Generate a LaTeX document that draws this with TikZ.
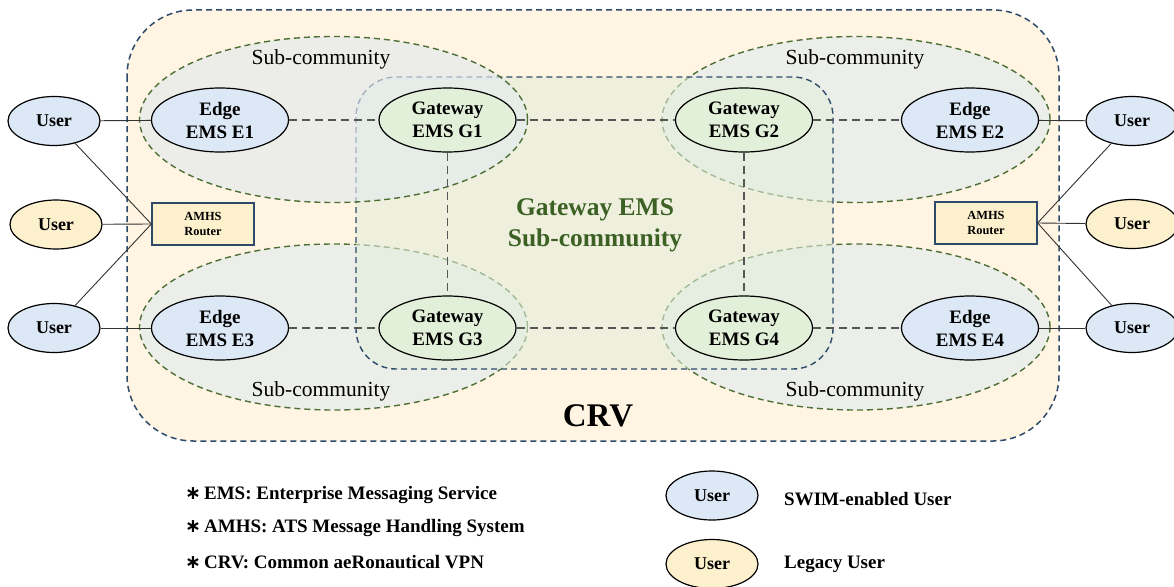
\documentclass[tikz,border=0pt]{standalone}
\usepackage{fontspec}
\setmainfont{Liberation Serif}
\newfontfamily\astfont{DejaVu Sans}
\usetikzlibrary{shapes.geometric}
\definecolor{crvfill}{RGB}{255,245,226}
\definecolor{crvline}{RGB}{46,74,106}
\definecolor{subfill}{RGB}{236,238,234}
\definecolor{subfilltl}{RGB}{226,234,238}
\definecolor{subline}{RGB}{78,112,54}
\definecolor{gwfill}{RGB}{226,238,219}
\definecolor{bluefill}{RGB}{220,232,245}
\definecolor{greenfill}{RGB}{226,239,217}
\definecolor{orangefill}{RGB}{253,240,204}
\definecolor{gwtext}{RGB}{61,97,37}
\definecolor{conn}{RGB}{85,85,85}
\newcommand{\legast}{{\astfont\bfseries ∗}\hspace{3pt}}
\tikzset{
  emsnode/.style={ellipse, draw=black, line width=1.2pt, minimum width=137pt, minimum height=64pt, inner sep=0pt, align=center, font=\fontsize{19}{23}\selectfont\bfseries},
  edgenode/.style={emsnode, fill=bluefill},
  gwnode/.style={emsnode, fill=greenfill},
  usernode/.style={ellipse, draw=black, line width=1.2pt, minimum width=92pt, minimum height=49pt, inner sep=0pt, font=\fontsize{18}{20}\selectfont\bfseries},
  swimuser/.style={usernode, fill=bluefill},
  legacyuser/.style={usernode, fill=orangefill},
  router/.style={rectangle, draw=crvline, line width=1.2pt, fill=orangefill, minimum width=102pt, minimum height=42pt, inner sep=0pt, align=center, font=\fontsize{12.4}{15}\selectfont\bfseries},
  gwlink/.style={draw=conn, line width=1.1pt, dash pattern=on 8pt off 5pt},
  userlink/.style={draw=black!80, line width=0.9pt},
  subcomm/.style={ellipse, fill=subfill, draw=subline, line width=1.4pt, dash pattern=on 6pt off 4pt, minimum width=388pt, minimum height=166pt, inner sep=0pt},
  sublabel/.style={font=\fontsize{21.5}{24}\selectfont},
  legendtext/.style={anchor=west, font=\fontsize{19}{22}\selectfont\bfseries, inner sep=0pt},
}
\begin{document}
\begin{tikzpicture}[x=1pt,y=-1pt]
\useasboundingbox (0,0) rectangle (1174,586);
% CRV
\draw[fill=crvfill, draw=crvline, line width=1.5pt, dash pattern=on 6pt off 4pt, rounded corners=66pt] (127,10) rectangle (1059,441);
% sub-communities
\node[subcomm] (sc2) at (856,119.5) {};
\node[subcomm] (sc3) at (333.5,327) {};
\node[subcomm] (sc4) at (856,327) {};
% gateway sub-community
\fill[gwfill, fill opacity=0.58, rounded corners=40pt] (356,77) rectangle (833,369);
\draw[crvline, line width=1.4pt, dash pattern=on 6pt off 4pt, rounded corners=40pt] (356,77) rectangle (833,369);
\node[subcomm, fill=subfilltl, fill opacity=0.65] (sc1) at (333.5,119.5) {};
\node[font=\fontsize{25.5}{31}\selectfont\bfseries, text=gwtext, align=center] (gwlabel) at (595,225) {Gateway EMS\\Sub-community};
\node[sublabel] (sl1) at (321,59) {Sub-community};
\node[sublabel] (sl2) at (855,59) {Sub-community};
\node[sublabel] (sl3) at (321,391) {Sub-community};
\node[sublabel] (sl4) at (855,391) {Sub-community};
\node[font=\fontsize{33}{36}\selectfont\bfseries] (crv) at (598,416) {CRV};
% EMS nodes
\node[edgenode] (e1) at (220,120) {Edge\\EMS E1};
\node[gwnode] (g1) at (447.5,120) {Gateway\\EMS G1};
\node[gwnode] (g2) at (744,120) {Gateway\\EMS G2};
\node[edgenode] (e2) at (970,120) {Edge\\EMS E2};
\node[edgenode] (e3) at (220,328) {Edge\\EMS E3};
\node[gwnode] (g3) at (447.5,328) {Gateway\\EMS G3};
\node[gwnode] (g4) at (744,328) {Gateway\\EMS G4};
\node[edgenode] (e4) at (970,328) {Edge\\EMS E4};
% users & routers
\node[swimuser] (ul1) at (54,121) {User};
\node[legacyuser] (ul2) at (56,224.5) {User};
\node[swimuser] (ul3) at (54,328) {User};
\node[swimuser] (ur1) at (1132,121) {User};
\node[legacyuser] (ur2) at (1132,224) {User};
\node[swimuser] (ur3) at (1132,328) {User};
\node[router] (rl) at (203,224) {AMHS\\Router};
\node[router] (rr) at (986,223) {AMHS\\Router};
% links
\draw[gwlink] (e1) -- (g1);
\draw[gwlink] (g1) -- (g2);
\draw[gwlink] (g2) -- (e2);
\draw[gwlink] (e3) -- (g3);
\draw[gwlink] (g3) -- (g4);
\draw[gwlink] (g4) -- (e4);
\draw[gwlink] (g1) -- (g3);
\draw[gwlink] (g2) -- (g4);
\draw[userlink] (ul1) -- (e1);
\draw[userlink] (ul3) -- (e3);
\draw[userlink] (e2) -- (ur1);
\draw[userlink] (e4) -- (ur3);
\draw[userlink] (rl.west) -- (ul1);
\draw[userlink] (rl.west) -- (ul2);
\draw[userlink] (rl.west) -- (ul3);
\draw[userlink] (rr.east) -- (ur1);
\draw[userlink] (rr.east) -- (ur2);
\draw[userlink] (rr.east) -- (ur3);
% legend
\node[legendtext] (l1) at (185,495) {\legast EMS: Enterprise Messaging Service};
\node[legendtext] (l2) at (185,528) {\legast AMHS: ATS Message Handling System};
\node[legendtext] (l3) at (185,562) {\legast CRV: Common aeRonautical VPN};
\node[swimuser] (lu1) at (712,495.5) {User};
\node[legacyuser] (lu2) at (712,564) {User};
\node[legendtext] (lt1) at (784,499) {SWIM-enabled User};
\node[legendtext] (lt2) at (784,564) {Legacy User};
\end{tikzpicture}
\end{document}
